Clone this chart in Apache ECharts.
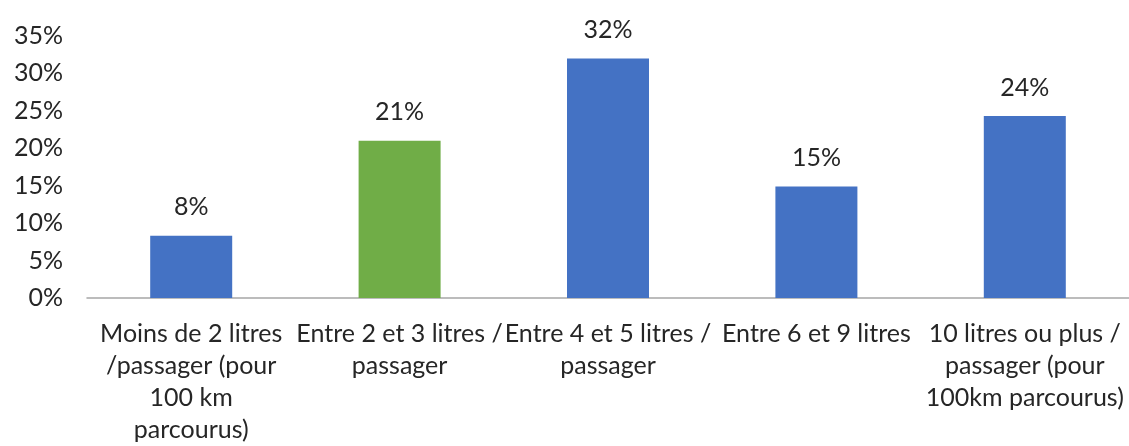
<!DOCTYPE html>
<html>
<head>
<meta charset="utf-8">
<script src="https://cdn.jsdelivr.net/npm/echarts@6/dist/echarts.min.js"></script>
<style>html,body{margin:0;padding:0;background:#fff;overflow:hidden}#c{width:1129px;height:446px}</style>
</head>
<body>
<div id="c"></div>
<script>
const categories = [
  "Moins de 2 litres\n/passager (pour\n100 km\nparcourus)",
  "Entre 2 et 3 litres /\npassager",
  "Entre 4 et 5 litres /\npassager",
  "Entre 6 et 9 litres",
  "10 litres ou plus /\npassager (pour\n100km parcourus)"
];
const values = [0.083, 0.21, 0.32, 0.149, 0.243];
const barColors = ["#4472C4", "#70AD47", "#4472C4", "#4472C4", "#4472C4"];
const yTicks = { min: 0, max: 0.35, interval: 0.05 };

const FONT = "Lato, 'Noto Sans', sans-serif";
const chart = echarts.init(document.getElementById('c'), null, { renderer: 'canvas' });
chart.setOption({
  animation: false,
  grid: { left: 87, right: 0, top: 36, height: 267, containLabel: false },
  xAxis: {
    type: 'category',
    data: categories,
    axisLine: { lineStyle: { color: '#a6a6a6', width: 1.5 } },
    axisTick: { show: false },
    axisLabel: {
      interval: 0,
      color: '#262626',
      fontFamily: FONT,
      fontSize: 25,
      lineHeight: 32,
      margin: 20
    }
  },
  yAxis: {
    type: 'value',
    min: yTicks.min,
    max: yTicks.max,
    interval: yTicks.interval,
    axisLine: { show: false },
    axisTick: { show: false },
    splitLine: { show: false },
    axisLabel: {
      color: '#262626',
      fontFamily: FONT,
      fontSize: 25,
      margin: 24,
      padding: [3, 0, 0, 0],
      formatter: v => Math.round(v * 100) + '%'
    }
  },
  series: [{
    type: 'bar',
    barWidth: 82,
    data: values.map((v, i) => ({ value: v, itemStyle: { color: barColors[i] } })),
    label: {
      show: true,
      position: 'top',
      distance: 16,
      color: '#262626',
      fontFamily: FONT,
      fontSize: 25,
      formatter: p => Math.round(p.value * 100) + '%'
    }
  }]
});
</script>
</body>
</html>
